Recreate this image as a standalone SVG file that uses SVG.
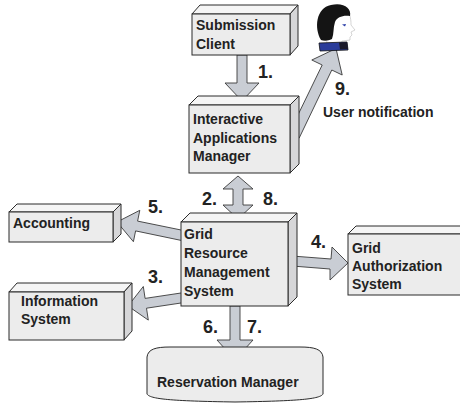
<svg xmlns="http://www.w3.org/2000/svg" width="460" height="405" viewBox="0 0 460 405">
  <style>
    .front { fill: #ececec; stroke: #2b2b2b; stroke-width: 1; }
    .top { fill: #f5f5f5; stroke: #2b2b2b; stroke-width: 1; stroke-linejoin: round; }
    .side { fill: #d6d6d8; stroke: #2b2b2b; stroke-width: 1; stroke-linejoin: round; }
    .arrow { fill: #c9cdd4; stroke: #3a3a3a; stroke-width: 0.9; stroke-linejoin: miter; }
    .lbl { font-family: "Liberation Sans", Arial, sans-serif; font-weight: bold; font-size: 14px; fill: #222; }
    .num { font-family: "Liberation Sans", Arial, sans-serif; font-weight: bold; font-size: 18px; fill: #222; }
  </style>
  <rect width="460" height="405" fill="#ffffff"/>

  <!-- block arrows, drawn beneath the boxes -->
  <g id="connectors">
    <polygon class="arrow" points="237,55 247,55 247,83 259,83 242,101 225,83 237,83"/>
    <polygon class="arrow" points="238,176 253,189 243,189 243,205 253,205 238,219 223,205 233,205 233,189 223,189"/>
    <polygon class="arrow" points="230,306 240,306 240,340 253,340 235,360 217,340 230,340"/>
    <polygon class="arrow" points="186,231 137.6,221.1 139.8,210.3 117,222 133.4,241.7 135.6,230.9 184,241"/>
    <polygon class="arrow" points="184.3,292.5 145.1,298.4 143.3,286.5 128,306 148.3,320.1 146.5,308.2 185.7,302.3"/>
    <polygon class="arrow" points="292,256 331,259 332,247 348,263 330,280 330,269 292,266"/>
    <polygon class="arrow" points="289.2,133 322.2,65 311.8,60 336,48.5 342.2,75 331.8,70 299.2,138"/>
  </g>

  <g id="submission-client">
    <polygon class="top" points="192,14 200,5 298,5 290,14"/>
    <polygon class="side" points="290,14 298,5 298,46 290,55"/>
    <rect class="front" x="192" y="14" width="98" height="41"/>
    <text class="lbl" x="196" y="30">Submission</text>
    <text class="lbl" x="196" y="49">Client</text>
  </g>

  <g id="interactive-applications-manager">
    <polygon class="top" points="189,105 198,96 299,96 290,105"/>
    <polygon class="side" points="290,105 299,96 299,164 290,173"/>
    <rect class="front" x="189" y="105" width="101" height="68"/>
    <text class="lbl" x="193" y="124">Interactive</text>
    <text class="lbl" x="193" y="142.5">Applications</text>
    <text class="lbl" x="193" y="161">Manager</text>
  </g>

  <g id="grid-resource-management-system">
    <polygon class="top" points="181,222 190,213 297,213 288,222"/>
    <polygon class="side" points="288,222 297,213 297,297 288,306"/>
    <rect class="front" x="181" y="222" width="107" height="84"/>
    <text class="lbl" x="184" y="239">Grid</text>
    <text class="lbl" x="184" y="258">Resource</text>
    <text class="lbl" x="184" y="277">Management</text>
    <text class="lbl" x="184" y="296">System</text>
  </g>

  <g id="accounting">
    <polygon class="top" points="9,212 17,204 121,204 113,212"/>
    <polygon class="side" points="113,212 121,204 121,234 113,242"/>
    <rect class="front" x="9" y="212" width="104" height="30"/>
    <text class="lbl" x="13" y="228">Accounting</text>
  </g>

  <g id="information-system">
    <polygon class="top" points="9,292 17,283 132,283 124,292"/>
    <polygon class="side" points="124,292 132,283 132,331 124,340"/>
    <rect class="front" x="9" y="292" width="115" height="48"/>
    <text class="lbl" x="21" y="306">Information</text>
    <text class="lbl" x="21" y="324">System</text>
  </g>

  <g id="grid-authorization-system">
    <polygon class="top" points="348,234 356,226 470,226 462,234"/>
    <rect class="front" x="348" y="234" width="114" height="61"/>
    <text class="lbl" x="352" y="252.5">Grid</text>
    <text class="lbl" x="352" y="271">Authorization</text>
    <text class="lbl" x="352" y="289">System</text>
  </g>

  <g id="reservation-manager">
    <path class="front" d="M147,357 C148,349 156,347 170,347 L300,347 C314,347 322,349 323,357 L323,394 C320,399 300,401 235,402 C170,401 150,399 147,394 Z"/>
    <text class="lbl" x="157" y="387">Reservation Manager</text>
  </g>

  <g id="user">
    <!-- face in profile -->
    <path d="M333,13 L349,13 C351,18 351,22 351,25 L355,30 L351,32 L352,35 L350,37 L350,40 L342,41 L341,45 L327,45 L326,30 Z" fill="#ffffff" stroke="#b8b8b8" stroke-width="0.6"/>
    <!-- hair -->
    <path d="M321,40 C314,28 316,8 331,5 C343,2 352,8 350,16 C343,15 337,17 335,22 C333,28 334,34 332,39 C328,41 324,41 321,40 Z" fill="#141414"/>
    <!-- eye -->
    <path d="M342,24.5 L346,24 L345,26.5 Z" fill="#2b3fa8"/>
    <!-- collar -->
    <polygon points="319,43 347,42 348,50 320,51" fill="#2a3c9a" stroke="#111" stroke-width="0.8"/>
    <polygon points="339,42.5 347,42 348,49 340,49.5" fill="#1a1a2a"/>
  </g>

  <g id="labels">
    <text class="num" x="258" y="78">1.</text>
    <text class="num" x="335" y="95">9.</text>
    <text class="lbl" x="323" y="117">User notification</text>
    <text class="num" x="202" y="205">2.</text>
    <text class="num" x="263" y="205">8.</text>
    <text class="num" x="148" y="213">5.</text>
    <text class="num" x="148" y="283">3.</text>
    <text class="num" x="311" y="248">4.</text>
    <text class="num" x="203" y="333">6.</text>
    <text class="num" x="247" y="333">7.</text>
  </g>
</svg>
